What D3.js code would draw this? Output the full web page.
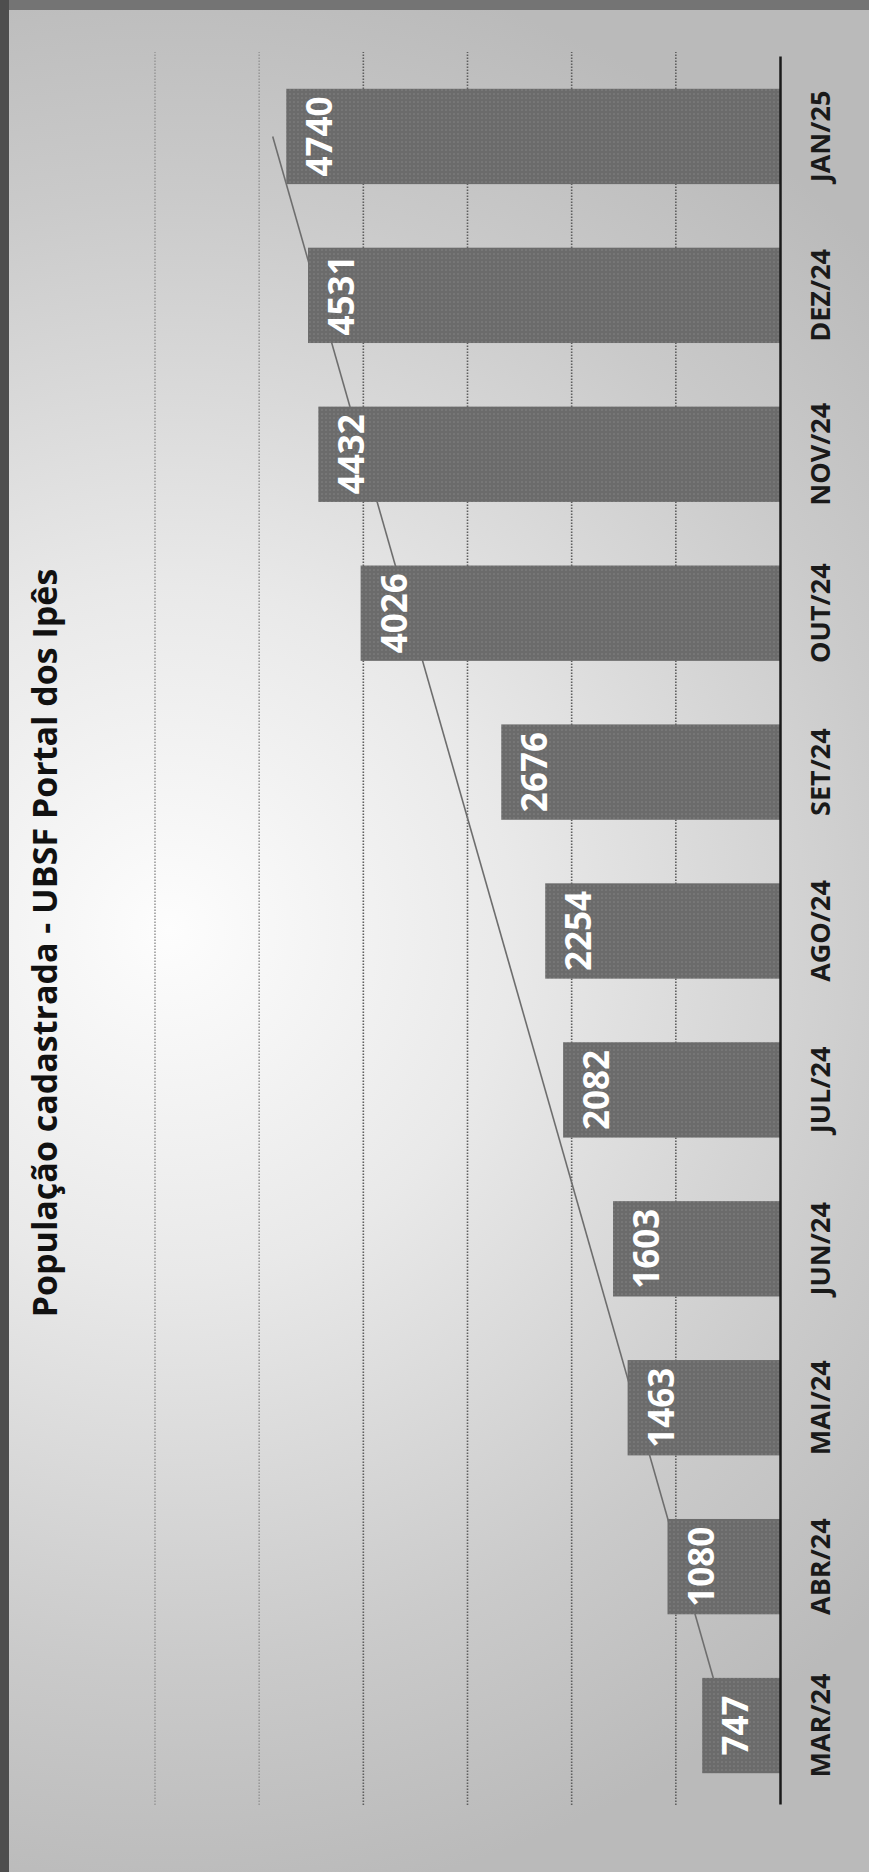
<!DOCTYPE html>
<html>
<head>
<meta charset="utf-8">
<script src="https://cdn.jsdelivr.net/npm/d3@7"></script>
<style>
  html, body { margin: 0; padding: 0; background: #c4c4c4; }
  svg { display: block; }
  text { font-family: "Open Sans", "Noto Sans", sans-serif; font-weight: 700; }
</style>
</head>
<body>
<svg id="chart" width="869" height="1872"></svg>
<script>
const title = "População cadastrada - UBSF Portal dos Ipês";
const categories = ["MAR/24","ABR/24","MAI/24","JUN/24","JUL/24","AGO/24","SET/24","OUT/24","NOV/24","DEZ/24","JAN/25"];
const values = [747,1080,1463,1603,2082,2254,2676,4026,4432,4531,4740];
const valueTicks = [1000,2000,3000,4000,5000,6000];
// linear trendline ends, read at first and last category
const trendCategories = ["MAR/24","JAN/25"];
const trendValues = [510,4870];

const W = 869, H = 1872;
const svg = d3.select("#chart");

// paper / photo background
const defs = svg.append("defs");
const rg = defs.append("radialGradient").attr("id","bg")
  .attr("gradientUnits","userSpaceOnUse").attr("cx",170).attr("cy",930).attr("r",980);
rg.append("stop").attr("offset",0).attr("stop-color","#fdfdfd");
rg.append("stop").attr("offset",0.35).attr("stop-color","#e9e9e9");
rg.append("stop").attr("offset",0.75).attr("stop-color","#cacaca");
rg.append("stop").attr("offset",1).attr("stop-color","#bababa");
const pat = defs.append("pattern").attr("id","dots").attr("patternUnits","userSpaceOnUse")
  .attr("width",4).attr("height",4);
pat.append("rect").attr("width",4).attr("height",4).attr("fill","#6b6b6b");
pat.append("circle").attr("cx",2).attr("cy",2).attr("r",0.9).attr("fill","#7c7c7c");

svg.append("rect").attr("width",W).attr("height",H).attr("fill","url(#bg)");
svg.append("rect").attr("x",0).attr("y",0).attr("width",W).attr("height",10).attr("fill","#747474");
svg.append("rect").attr("x",0).attr("y",0).attr("width",9).attr("height",H).attr("fill","#4e4e4e");

// chart drawn upright, then rotated -90deg
const g = svg.append("g").attr("transform",`translate(0,${H}) rotate(-90)`);

const x = d3.scaleBand().domain(categories).range([67,1815]).paddingInner(0.4).paddingOuter(0.2);
const y = d3.scaleLinear().domain([0,6000]).range([780,155]);

// gridlines
g.append("g").selectAll("line").data(valueTicks).join("line")
  .attr("x1",67).attr("x2",1820)
  .attr("y1",d=>y(d)).attr("y2",d=>y(d))
  .attr("stroke",d=> d>=5000 ? "#9a9a9a" : "#5e5e5e")
  .attr("stroke-width",1.6)
  .attr("stroke-dasharray","1.5,1.5");

// trendline
const tl = trendCategories.map((c,i)=>[x(c)+x.bandwidth()/2, y(trendValues[i])]);
g.append("path").attr("d",d3.line()(tl)).attr("fill","none")
  .attr("stroke","#6e6e6e").attr("stroke-width",1.6);

// bars
g.append("g").selectAll("rect").data(values).join("rect")
  .attr("x",(d,i)=>x(categories[i]))
  .attr("width",x.bandwidth())
  .attr("y",d=>y(d))
  .attr("height",d=>y(0)-y(d))
  .attr("fill","url(#dots)");

// value labels
g.append("g").selectAll("text").data(values).join("text")
  .attr("x",(d,i)=>x(categories[i])+x.bandwidth()/2)
  .attr("y",d=>y(d)+46)
  .attr("text-anchor","middle")
  .attr("font-size",35)
  .attr("fill","#ffffff")
  .text(d=>d);

// category axis
const ax = g.append("g").attr("transform","translate(0,780)")
  .call(d3.axisBottom(x).tickSize(0).tickPadding(31));
ax.select(".domain").attr("stroke","#1a1a1a").attr("stroke-width",2.5);
ax.selectAll("text").attr("font-size",27).attr("fill","#1a1a1a")
  .style("font-family","'Open Sans', sans-serif").style("font-weight",700);

// title
g.append("text").attr("x",929).attr("y",57)
  .attr("text-anchor","middle").attr("font-size",34).attr("fill","#111")
  .text(title);
</script>
</body>
</html>
